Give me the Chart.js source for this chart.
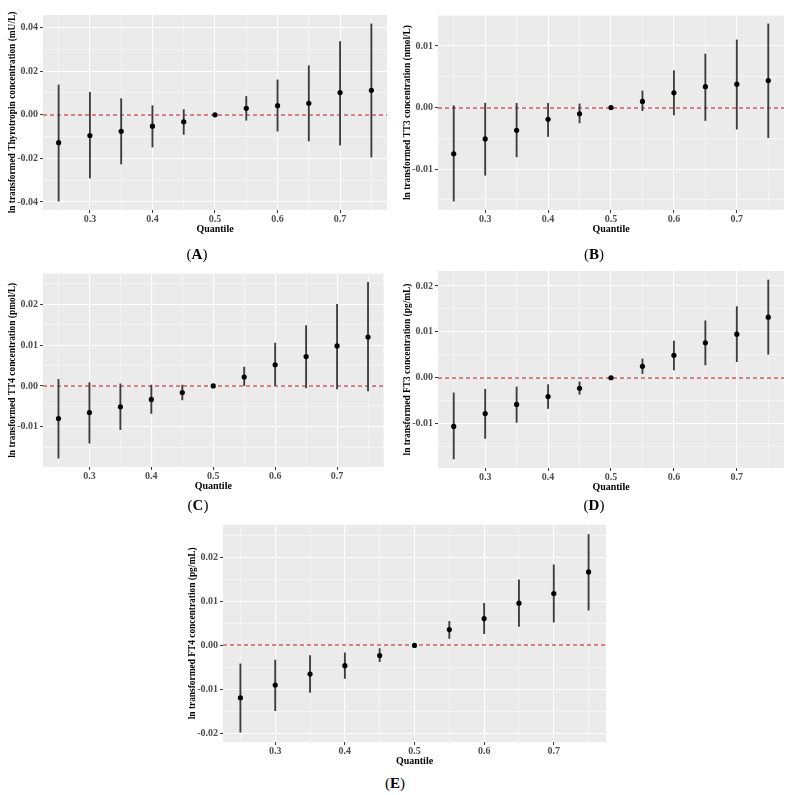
<!DOCTYPE html>
<html>
<head>
<meta charset="utf-8">
<script src="https://cdn.jsdelivr.net/npm/chart.js@4.4.1/dist/chart.umd.min.js"></script>
<style>
  body { margin: 0; background: #fff; }
  #page { position: relative; width: 792px; height: 795px; }
  canvas { position: absolute; }
  .cap { position: absolute; font-family: 'Liberation Serif', serif; font-size: 15px; transform: translate(-50%, -50%); }
  .cap b { font-weight: bold; }
</style>
</head>
<body>
<div id="page">
  <canvas id="chartA" width="392" height="240" style="left:0px;top:0px"></canvas>
  <canvas id="chartB" width="397" height="240" style="left:395px;top:0px"></canvas>
  <canvas id="chartC" width="392" height="239" style="left:0px;top:258px"></canvas>
  <canvas id="chartD" width="397" height="242" style="left:395px;top:256px"></canvas>
  <canvas id="chartE" width="432" height="262" style="left:180px;top:510px"></canvas>
  <div class="cap" style="left:197px;top:254px">(<b>A</b>)</div>
  <div class="cap" style="left:594px;top:254px">(<b>B</b>)</div>
  <div class="cap" style="left:198px;top:505px">(<b>C</b>)</div>
  <div class="cap" style="left:594px;top:505px">(<b>D</b>)</div>
  <div class="cap" style="left:395px;top:783px">(<b>E</b>)</div>
</div>
<script>
// quantiles on the x axis
const quantiles = [0.25, 0.30, 0.35, 0.40, 0.45, 0.50, 0.55, 0.60, 0.65, 0.70, 0.75];
const xLabelled = [0.3, 0.4, 0.5, 0.6, 0.7];

// (A) Thyrotropin
const tshEst  = [-0.0128, -0.0095, -0.0076, -0.0052, -0.0032, 0, 0.0030, 0.0042, 0.0053, 0.0102, 0.0112];
const tshLow  = [-0.0396, -0.0290, -0.0226, -0.0148, -0.0090, 0, -0.0025, -0.0075, -0.0120, -0.0139, -0.0194];
const tshHigh = [0.0137, 0.0103, 0.0074, 0.0042, 0.0024, 0, 0.0084, 0.0160, 0.0225, 0.0336, 0.0417];
const tshMajor = [-0.04, -0.02, 0, 0.02, 0.04];
const tshMinor = [-0.03, -0.01, 0.01, 0.03];

// (B) TT3
const tt3Est  = [-0.0075, -0.0051, -0.0037, -0.0019, -0.0010, 0, 0.0010, 0.0024, 0.0034, 0.0038, 0.0044];
const tt3Low  = [-0.0152, -0.0110, -0.0080, -0.0047, -0.0025, 0, -0.0005, -0.0012, -0.0021, -0.0035, -0.0049];
const tt3High = [0.0003, 0.0007, 0.0007, 0.0007, 0.0006, 0, 0.0027, 0.0060, 0.0087, 0.0110, 0.0136];
const tt3Major = [-0.01, 0, 0.01];
const tt3Minor = [-0.015, -0.005, 0.005, 0.015];

// (C) TT4
const tt4Est  = [-0.0080, -0.0065, -0.0051, -0.0033, -0.0016, 0, 0.0022, 0.0052, 0.0072, 0.0098, 0.0120];
const tt4Low  = [-0.0177, -0.0140, -0.0107, -0.0067, -0.0034, 0, 0.0001, 0.0000, -0.0005, -0.0007, -0.0012];
const tt4High = [0.0016, 0.0008, 0.0005, 0.0002, 0.0002, 0, 0.0046, 0.0105, 0.0148, 0.0200, 0.0254];
const tt4Major = [-0.01, 0, 0.01, 0.02];
const tt4Minor = [-0.015, -0.005, 0.005, 0.015, 0.025];

// (D) FT3
const ft3Est  = [-0.0106, -0.0078, -0.0058, -0.0041, -0.0023, 0, 0.0025, 0.0049, 0.0076, 0.0095, 0.0132];
const ft3Low  = [-0.0177, -0.0132, -0.0097, -0.0067, -0.0036, 0, 0.0009, 0.0017, 0.0028, 0.0035, 0.0051];
const ft3High = [-0.0033, -0.0025, -0.0020, -0.0015, -0.0009, 0, 0.0041, 0.0080, 0.0124, 0.0155, 0.0213];
const ft3Major = [-0.01, 0, 0.01, 0.02];
const ft3Minor = [-0.015, -0.005, 0.005, 0.015];

// (E) FT4
const ft4Est  = [-0.0119, -0.0090, -0.0065, -0.0046, -0.0023, 0, 0.0036, 0.0061, 0.0096, 0.0118, 0.0167];
const ft4Low  = [-0.0197, -0.0148, -0.0107, -0.0075, -0.0037, 0, 0.0016, 0.0027, 0.0043, 0.0053, 0.0080];
const ft4High = [-0.0042, -0.0033, -0.0023, -0.0017, -0.0007, 0, 0.0055, 0.0096, 0.0149, 0.0183, 0.0252];
const ft4Major = [-0.02, -0.01, 0, 0.01, 0.02];
const ft4Minor = [-0.015, -0.005, 0.005, 0.015, 0.025];

const serif = 'Liberation Serif';

// grey panel background like ggplot
const panelBg = {
    id: 'panelBg',
    beforeDraw(chart) {
        const a = chart.chartArea;
        chart.ctx.save();
        chart.ctx.fillStyle = '#ebebeb';
        chart.ctx.fillRect(a.left, a.top, a.right - a.left, a.bottom - a.top);
        chart.ctx.restore();
    }
};

// dashed red reference line at zero
const zeroLine = {
    id: 'zeroLine',
    beforeDatasetsDraw(chart) {
        const a = chart.chartArea;
        const y = Math.round(chart.scales.y.getPixelForValue(0));
        const ctx = chart.ctx;
        ctx.save();
        ctx.strokeStyle = '#d45a58';
        ctx.lineWidth = 1.6;
        ctx.setLineDash([4, 3]);
        ctx.beginPath();
        ctx.moveTo(a.left, y);
        ctx.lineTo(a.right, y);
        ctx.stroke();
        ctx.restore();
    }
};

function tickList(major, minor) {
    return major.map(v => ({ value: v }))
        .concat(minor.map(v => ({ value: v, minor: true })))
        .sort((a, b) => a.value - b.value);
}

function makePanel(id, est, low, high, yMajor, yMinor, yTitle, pad) {
    const lo = Math.min(...low), hi = Math.max(...high);
    const span = hi - lo;
    const qSpan = quantiles[quantiles.length - 1] - quantiles[0];

    new Chart(document.getElementById(id), {
        type: 'scatter',
        data: {
            datasets: [{
                type: 'scatter',
                data: quantiles.map((q, i) => ({ x: q, y: est[i] })),
                backgroundColor: '#000',
                borderWidth: 0,
                pointRadius: 2.6,
                order: 0
            }, {
                type: 'bar',
                data: quantiles.map((q, i) => ({ x: q, y: [low[i], high[i]] })),
                backgroundColor: '#3d3d3d',
                borderWidth: 0,
                barThickness: 1.2,
                order: 1
            }]
        },
        options: {
            responsive: false,
            animation: false,
            layout: { padding: { top: pad.top, right: pad.right, left: 0, bottom: 0 } },
            plugins: { legend: { display: false }, tooltip: { enabled: false } },
            scales: {
                x: {
                    type: 'linear',
                    offset: false,
                    min: quantiles[0] - 0.05 * qSpan,
                    max: quantiles[quantiles.length - 1] + 0.05 * qSpan,
                    afterBuildTicks: s => {
                        s.ticks = quantiles.map(q => ({ value: q, minor: !xLabelled.some(m => Math.abs(m - q) < 1e-9) }));
                    },
                    afterFit: s => { s.height = 30; },
                    border: { display: false },
                    grid: {
                        offset: false,
                        color: '#ffffff',
                        lineWidth: c => (c.tick && c.tick.minor) ? 0.5 : 1.1,
                        tickColor: c => (c.tick && c.tick.minor) ? 'rgba(0,0,0,0)' : '#333333',
                        tickLength: 3,
                        tickWidth: 1
                    },
                    ticks: {
                        autoSkip: false,
                        maxRotation: 0,
                        padding: 0,
                        color: '#4d4d4d',
                        font: { family: serif, weight: 'bold', size: 10 },
                        callback: (v, i, ticks) => ticks[i].minor ? '' : v.toFixed(1)
                    },
                    title: {
                        display: true,
                        text: 'Quantile',
                        color: '#000',
                        font: { family: serif, weight: 'bold', size: 10 },
                        padding: { top: 0, bottom: 5 }
                    }
                },
                y: {
                    type: 'linear',
                    min: lo - 0.05 * span,
                    max: hi + 0.05 * span,
                    afterBuildTicks: s => { s.ticks = tickList(yMajor, yMinor); },
                    afterFit: s => { s.width = 43; },
                    border: { display: false },
                    grid: {
                        color: '#ffffff',
                        lineWidth: c => (c.tick && c.tick.minor) ? 0.5 : 1.1,
                        tickColor: c => (c.tick && c.tick.minor) ? 'rgba(0,0,0,0)' : '#333333',
                        tickLength: 3,
                        tickWidth: 1
                    },
                    ticks: {
                        autoSkip: false,
                        padding: 2,
                        color: '#4d4d4d',
                        font: { family: serif, weight: 'bold', size: 10 },
                        callback: (v, i, ticks) => ticks[i].minor ? '' : v.toFixed(2)
                    },
                    title: {
                        display: true,
                        text: yTitle,
                        color: '#000',
                        font: { family: serif, weight: 'bold', size: 9.4 },
                        padding: { top: 7, bottom: 0 }
                    }
                }
            }
        },
        plugins: [panelBg, zeroLine]
    });
}

makePanel('chartA', tshEst, tshLow, tshHigh, tshMajor, tshMinor,
    'ln transformed Thyrotropin concentration (mU/L)', { top: 15, right: 5 });
makePanel('chartB', tt3Est, tt3Low, tt3High, tt3Major, tt3Minor,
    'ln transformed TT3 concentration (nmol/L)', { top: 15, right: 8 });
makePanel('chartC', tt4Est, tt4Low, tt4High, tt4Major, tt4Minor,
    'ln transformed TT4 concentration (pmol/L)', { top: 15.5, right: 8.5 });
makePanel('chartD', ft3Est, ft3Low, ft3High, ft3Major, ft3Minor,
    'ln transformed FT3 concentration (pg/mL)', { top: 15, right: 8 });
makePanel('chartE', ft4Est, ft4Low, ft4High, ft4Major, ft4Minor,
    'ln transformed FT4 concentration (pg/mL)', { top: 14.7, right: 6 });
</script>
</body>
</html>
